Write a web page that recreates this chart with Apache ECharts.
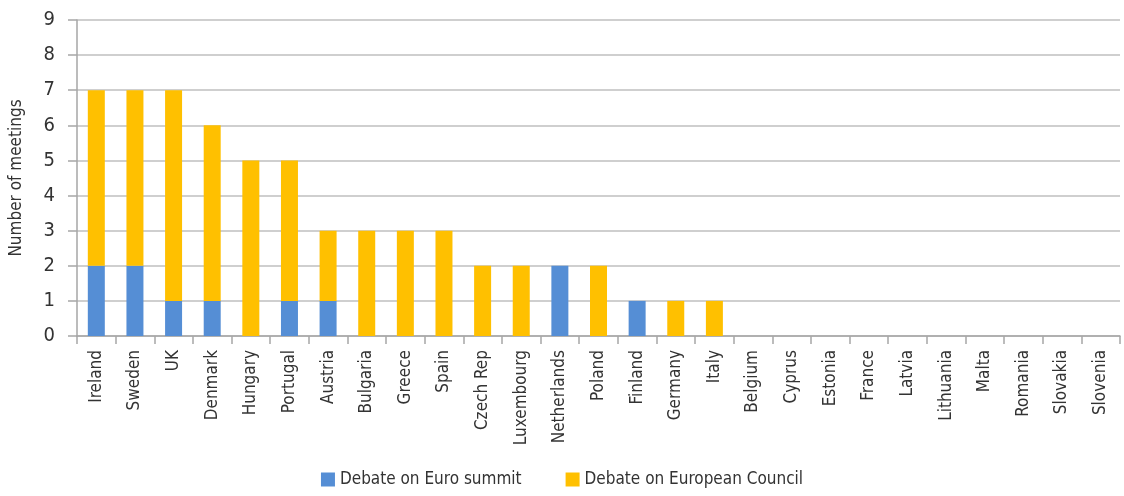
<!DOCTYPE html>
<html><head><meta charset="utf-8">
<script src="https://cdn.jsdelivr.net/npm/echarts@6/dist/echarts.min.js"></script>
<style>html,body{margin:0;padding:0;background:#fff}#c{width:1124px;height:496px}</style>
</head><body><div id="c"></div>
<script>
const categories = ["Ireland","Sweden","UK","Denmark","Hungary","Portugal","Austria","Bulgaria","Greece","Spain","Czech Rep","Luxembourg","Netherlands","Poland","Finland","Germany","Italy","Belgium","Cyprus","Estonia","France","Latvia","Lithuania","Malta","Romania","Slovakia","Slovenia"];
const euroSummit = [2,2,1,1,0,1,1,0,0,0,0,0,2,0,1,0,0,0,0,0,0,0,0,0,0,0,0];
const europeanCouncil = [5,5,6,5,5,4,2,3,3,3,2,2,0,2,0,1,1,0,0,0,0,0,0,0,0,0,0];
const yTicks = [0,1,2,3,4,5,6,7,8,9];
const FONT = '"DejaVu Sans Condensed","Liberation Sans Narrow",sans-serif';
const chart = echarts.init(document.getElementById('c'));
chart.setOption({
  animation:false,
  textStyle:{fontFamily:FONT},
  grid:{left:72,right:4,top:20,bottom:160},
  legend:{bottom:3,left:'center',itemWidth:14,itemHeight:14,itemGap:44,icon:'rect',
    textStyle:{fontFamily:FONT,fontSize:17,color:'#333'}},
  xAxis:{type:'category',data:categories,boundaryGap:true,
    axisLine:{lineStyle:{color:'#A6A6A6',width:1.5}},
    axisTick:{show:true,length:8,lineStyle:{color:'#A6A6A6',width:1.5}},
    axisLabel:{rotate:90,interval:0,fontSize:17,color:'#333',margin:14,fontFamily:FONT}},
  yAxis:{type:'value',min:0,max:9,interval:1,
    name:'Number of meetings',nameLocation:'middle',nameGap:52,nameRotate:90,
    nameTextStyle:{fontSize:17,color:'#333',fontFamily:FONT},
    axisLine:{show:true,lineStyle:{color:'#A6A6A6',width:1.5}},
    axisTick:{show:true,length:9,lineStyle:{color:'#A6A6A6',width:1.5}},
    splitLine:{lineStyle:{color:'#BFBFBF',width:1.5}},
    axisLabel:{fontSize:20,color:'#333',margin:22,fontFamily:FONT,
      formatter:v=>yTicks.includes(v)?String(v):''}},
  series:[
    {name:'Debate on Euro summit',type:'bar',stack:'a',data:euroSummit,barWidth:'44%',itemStyle:{color:'#558ED5'}},
    {name:'Debate on European Council',type:'bar',stack:'a',data:europeanCouncil,barWidth:'44%',itemStyle:{color:'#FFC000'}}
  ]
});
</script></body></html>
